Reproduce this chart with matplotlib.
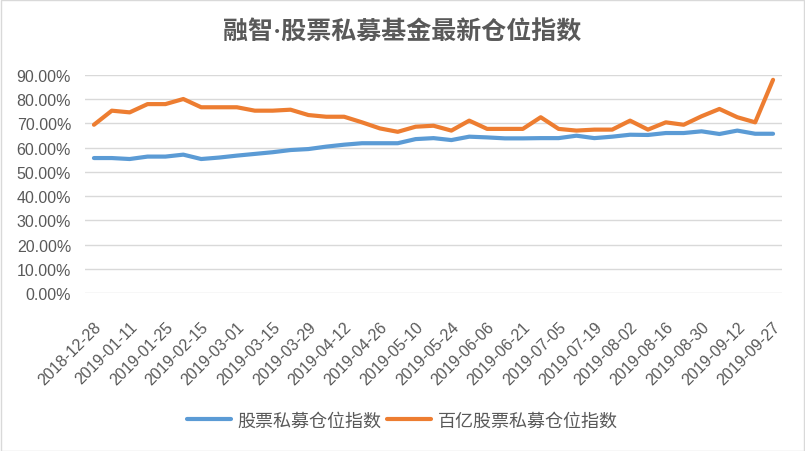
import numpy as np
import matplotlib.pyplot as plt
import matplotlib.transforms as mtransforms

plt.rcParams['font.family'] = ['Liberation Sans', 'Noto Sans CJK SC', 'DejaVu Sans']

# 周度日期（类别轴）
dates = ['2018-12-28', '2019-01-04', '2019-01-11', '2019-01-18', '2019-01-25',
         '2019-02-01', '2019-02-15', '2019-02-22', '2019-03-01', '2019-03-08',
         '2019-03-15', '2019-03-22', '2019-03-29', '2019-04-04', '2019-04-12',
         '2019-04-19', '2019-04-26', '2019-05-05', '2019-05-10', '2019-05-17',
         '2019-05-24', '2019-05-31', '2019-06-06', '2019-06-14', '2019-06-21',
         '2019-06-28', '2019-07-05', '2019-07-12', '2019-07-19', '2019-07-26',
         '2019-08-02', '2019-08-09', '2019-08-16', '2019-08-23', '2019-08-30',
         '2019-09-06', '2019-09-12', '2019-09-20', '2019-09-27']

# 股票私募仓位指数 (%)
all_index = [55.7, 55.7, 55.3, 56.3, 56.3, 57.1, 55.3, 55.9, 56.7, 57.4,
             58.1, 59.0, 59.4, 60.4, 61.2, 61.8, 61.8, 61.8, 63.5, 63.9,
             63.1, 64.5, 64.2, 63.8, 63.8, 63.9, 63.9, 64.9, 63.9, 64.5,
             65.3, 65.2, 66.0, 66.0, 66.7, 65.6, 67.0, 65.7, 65.7]

# 百亿股票私募仓位指数 (%)
big_index = [69.4, 75.2, 74.5, 77.9, 77.9, 80.0, 76.6, 76.6, 76.6, 75.2,
             75.2, 75.6, 73.4, 72.7, 72.7, 70.4, 67.9, 66.5, 68.6, 69.0,
             67.0, 71.1, 67.7, 67.7, 67.7, 72.5, 67.7, 67.0, 67.4, 67.4,
             71.1, 67.4, 70.4, 69.4, 72.9, 75.9, 72.5, 70.4, 87.9]

gray = '#595959'
fig = plt.figure(figsize=(8.05, 4.52), dpi=100)
fig.patches.append(plt.Rectangle((0.001, 0.001), 0.998, 0.997, transform=fig.transFigure,
                                 fill=False, edgecolor='#D9D9D9', linewidth=1))
ax = fig.add_axes([0.1056, 0.3487, 0.8658, 0.4838])

x = np.arange(len(dates))
ax.plot(x, np.array(all_index) / 100, color='#5B9BD5', linewidth=3,
        solid_capstyle='round', label='股票私募仓位指数')
ax.plot(x, np.array(big_index) / 100, color='#ED7D31', linewidth=3,
        solid_capstyle='round', label='百亿股票私募仓位指数')

ax.set_xlim(-0.5, len(dates) - 0.5)
ax.set_ylim(0, 0.9)
ax.set_yticks(np.arange(0, 0.91, 0.1))
ax.set_yticklabels([f'{v * 100:.2f}%' for v in np.arange(0, 0.91, 0.1)])
ax.grid(axis='y', color='#D9D9D9', linewidth=1)
ax.set_axisbelow(True)
for s in ax.spines.values():
    s.set_visible(False)

ax.set_xticks(x[::2])
ax.set_xticklabels(dates[::2], rotation=45, ha='right', va='center',
                   rotation_mode='anchor')
ax.tick_params(axis='both', length=0, colors=gray, labelsize=11.5)
ax.tick_params(axis='x', pad=22)
ax.tick_params(axis='y', pad=10)
offset = mtransforms.ScaledTranslation(5 / 100, 0, fig.dpi_scale_trans)
for lbl in ax.get_xticklabels():
    lbl.set_transform(lbl.get_transform() + offset)

fig.text(0.5, 0.927, '融智·股票私募基金最新仓位指数', ha='center', va='center',
         fontsize=18, color=gray, fontweight='bold',
         family=['Liberation Serif', 'Noto Sans CJK SC'])

leg = fig.legend(loc='center', bbox_to_anchor=(0.5, 0.068), ncol=2, frameon=False,
                 handlelength=2.4, handletextpad=0.4, columnspacing=0.3,
                 prop={'family': ['Noto Sans CJK SC'], 'size': 13})
for t in leg.get_texts():
    t.set_color(gray)

fig.savefig('out.png', dpi=100)
